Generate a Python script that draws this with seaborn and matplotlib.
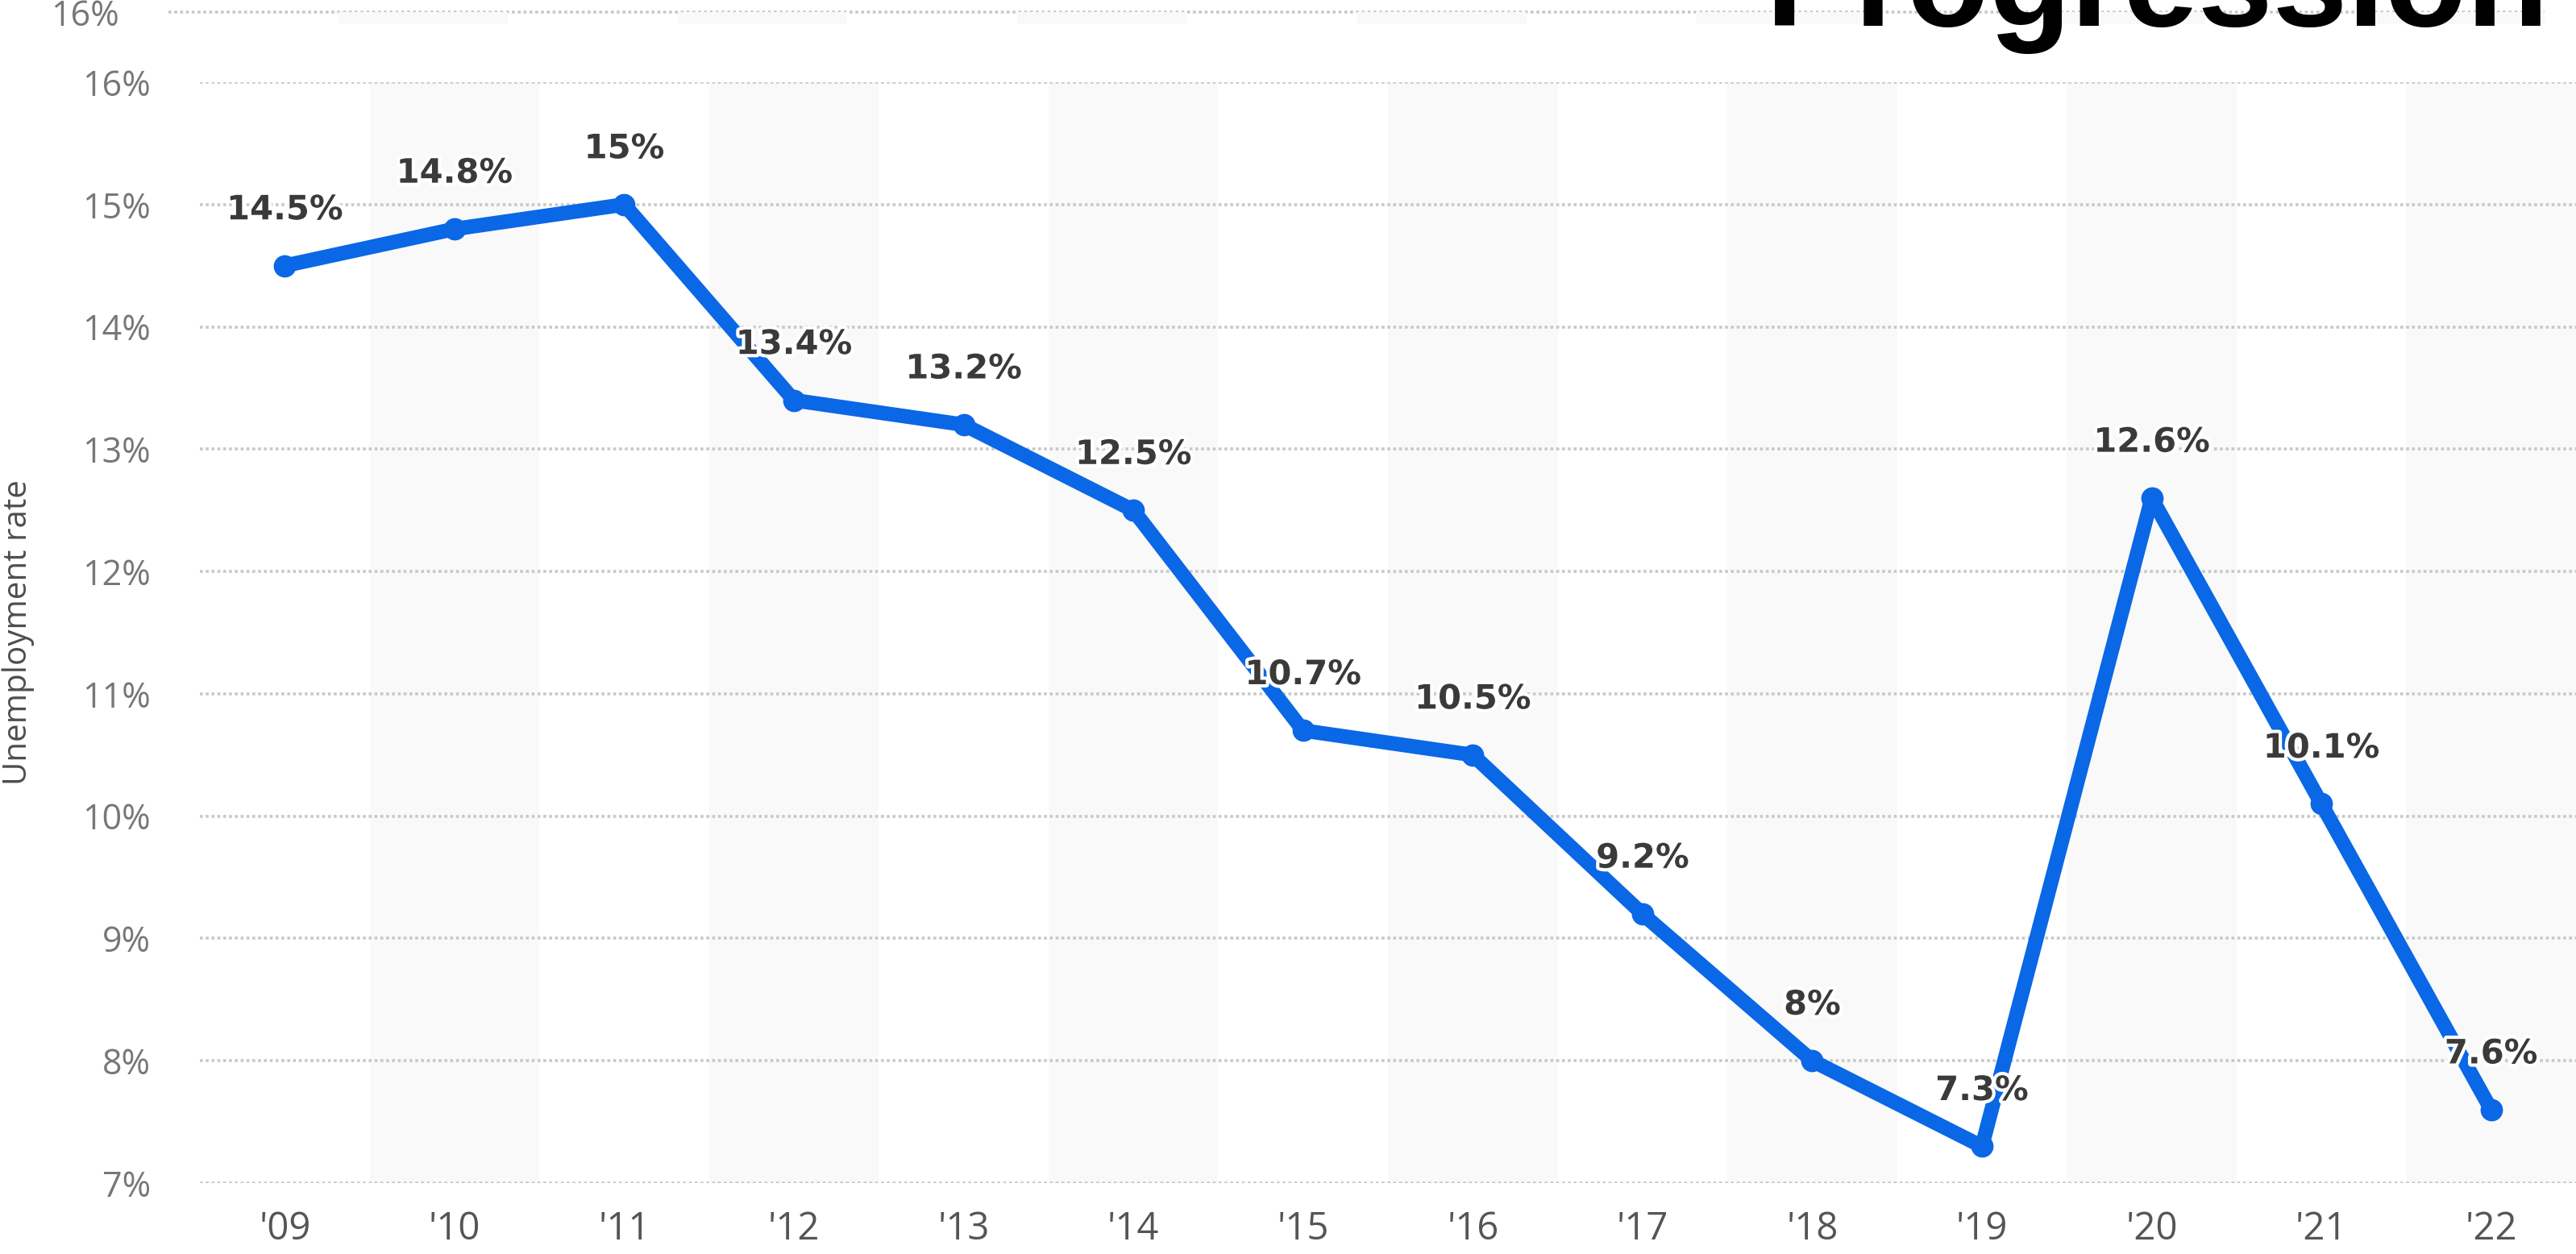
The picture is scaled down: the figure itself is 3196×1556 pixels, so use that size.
import pandas as pd
import matplotlib.pyplot as plt
import matplotlib.patheffects as pe
import seaborn as sns

# data
years = ["'09", "'10", "'11", "'12", "'13", "'14", "'15", "'16", "'17", "'18", "'19", "'20", "'21", "'22"]
rate = [14.5, 14.8, 15, 13.4, 13.2, 12.5, 10.7, 10.5, 9.2, 8, 7.3, 12.6, 10.1, 7.6]
y_ticks = [7, 8, 9, 10, 11, 12, 13, 14, 15, 16]

df = pd.DataFrame({"pos": range(len(years)), "rate": rate})

sns.set_style("white")
plt.rcParams['font.family'] = ['Open Sans', 'DejaVu Sans']

W, H = 3196, 1556
fig = plt.figure(figsize=(W / 200, H / 200), dpi=200)

left = 248 / W
ax = fig.add_axes([left, 1 - 1468 / H, 1 - left, (1468 - 102) / H])

# alternating light bands
for i in range(1, len(years), 2):
    ax.axvspan(i - 0.5, i + 0.5, color="#f9f9f9", zorder=0, lw=0)

sns.lineplot(data=df, x="pos", y="rate", ax=ax, color="#0a67e6",
             linewidth=6.5, marker="o", markersize=10, markeredgewidth=0, zorder=3)

for i, v in enumerate(rate):
    ax.annotate(f"{v:g}%", (i, v), xytext=(0, 25), textcoords="offset points",
                ha="center", va="center", fontsize=15, fontweight="bold",
                family="DejaVu Sans", color="#3a3a3a", zorder=5,
                path_effects=[pe.withStroke(linewidth=3, foreground="white")])

ax.set_xlim(-0.5, len(years) - 0.5)
ax.set_ylim(7, 16)
ax.set_xticks(range(len(years)))
ax.set_xticklabels(years, fontsize=17, color="#555555")
ax.set_yticks(y_ticks)
ax.set_yticklabels([f"{t}%" for t in y_ticks], fontsize=15.5, color="#777777")
ax.tick_params(axis="both", length=0)
ax.tick_params(axis="y", pad=22)
ax.tick_params(axis="x", pad=12)
ax.grid(axis="y", color="#c8c8c8", linestyle=(0, (1, 1)), linewidth=1.3)
ax.grid(axis="x", visible=False)
ax.set_xlabel("")
ax.set_ylabel("Unemployment rate", fontsize=14.5, color="#4d4d4d")
ax.yaxis.set_label_coords(-0.0695, 0.5)
for s in ax.spines.values():
    s.set_visible(False)

# leftover strip of a second copy at the very top
ax_top = fig.add_axes([(248 - 39) / W, 1 - 30 / H, 1 - left, 18 / H])
for i in range(1, len(years), 2):
    ax_top.axvspan(i - 0.5, i + 0.5, ymax=1 / 1.2, color="#f9f9f9", lw=0)
ax_top.set_xlim(-0.5, len(years) - 0.5)
ax_top.set_ylim(15.0, 16.2)
ax_top.set_xticks([])
ax_top.set_yticks([16])
ax_top.set_yticklabels(["16%"], fontsize=15.5, color="#777777")
ax_top.tick_params(axis="y", length=0, pad=22)
ax_top.grid(axis="y", color="#c8c8c8", linestyle=(0, (1, 1)), linewidth=1.3)
ax_top.set_facecolor("none")
for s in ax_top.spines.values():
    s.set_visible(False)

# title, cut off by the top edge as in the source image
fig.text(2191 / W, 1 - 32 / H, "Progression", fontsize=60, fontweight="bold",
         family="Liberation Sans", color="black", ha="left", va="baseline")

fig.savefig("out.png", dpi=200)
